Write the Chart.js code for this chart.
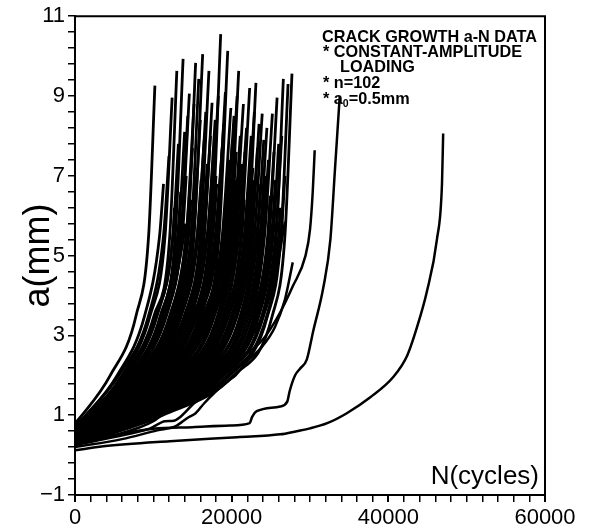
<!DOCTYPE html>
<html>
<head>
<meta charset="utf-8">
<script src="https://cdn.jsdelivr.net/npm/chart.js@4.4.0/dist/chart.umd.min.js"></script>
<style>
html, body { margin: 0; padding: 0; background: #fff; }
</style>
</head>
<body>
<canvas id="myChart" width="591" height="525"></canvas>
<script>
// tick labels
var xTickLabels = [0, 20000, 40000, 60000];
var yTickLabels = [-1, 1, 3, 5, 7, 9, 11];

// main bundle: crack length a (mm) reached at given cycles (thousands)
var crackLevels = [1, 2, 3.5, 5.5];
var startA = [0.80, 0.75, 0.70, 0.72, 0.65, 0.70, 0.62, 0.68, 0.60, 0.66,
  0.58, 0.64, 0.55, 0.60, 0.62, 0.57, 0.60, 0.54, 0.58, 0.52,
  0.60, 0.55, 0.50, 0.56, 0.48, 0.53, 0.50, 0.46, 0.52, 0.45,
  0.50, 0.47, 0.50, 0.44, 0.48, 0.42, 0.46, 0.40, 0.45, 0.42,
  0.38, 0.44, 0.40, 0.43, 0.37, 0.42, 0.36, 0.40, 0.35, 0.40,
  0.36, 0.33, 0.38, 0.32, 0.35, 0.30, 0.34, 0.30, 0.32, 0.28,
  0.33, 0.28, 0.31, 0.27, 0.30, 0.26, 0.30, 0.26, 0.29, 0.25,
  0.28, 0.30, 0.26, 0.28, 0.25,
  0.66, 0.55, 0.50, 0.47, 0.44, 0.41, 0.38, 0.36, 0.32, 0.49,
  0.52, 0.43, 0.38, 0.30, 0.41, 0.47, 0.58, 0.63, 0.34, 0.28, 0.45, 0.31];
var cyclesAt1mm = [0.9, 1.4, 1.4, 1.7, 2.0, 1.8, 2.0, 2.3, 2.1, 2.3,
  2.5, 2.4, 2.6, 2.9, 2.7, 2.8, 2.8, 3.1, 3.0, 3.2,
  3.4, 3.2, 3.4, 3.4, 3.7, 3.6, 3.8, 3.9, 4.1, 4.1,
  4.5, 4.3, 4.5, 4.8, 4.8, 4.9, 5.0, 5.4, 5.3, 5.6,
  5.6, 6.0, 5.8, 5.9, 6.2, 6.4, 6.3, 6.6, 6.7, 7.0,
  6.9, 7.2, 7.4, 7.4, 7.5, 7.8, 7.9, 8.2, 8.1, 8.4,
  8.7, 8.6, 8.9, 9.2, 9.1, 9.4, 9.7, 9.6, 9.9, 10.3,
  10.1, 10.3, 10.6, 10.8, 11.2,
  2.5, 3.3, 3.9, 4.6, 5.3, 5.7, 6.4, 7.0, 7.8, 4.4,
  3.7, 5.5, 6.7, 8.6, 5.9, 4.2, 3.0, 2.3, 7.6, 9.4, 5.0, 8.2];
var cyclesAt2mm = [4.5, 5.4, 5.6, 6.0, 6.4, 6.2, 6.6, 7.0, 6.9, 7.2,
  7.5, 7.3, 7.6, 8.0, 7.9, 8.0, 8.1, 8.4, 8.4, 8.7,
  9.0, 8.8, 9.0, 9.1, 9.5, 9.4, 9.7, 9.8, 10.1, 10.2,
  10.7, 10.5, 10.8, 11.1, 11.2, 11.3, 11.6, 12.0, 12.1, 12.4,
  12.5, 13.0, 12.9, 13.0, 13.3, 13.6, 13.6, 14.0, 14.0, 14.6,
  14.4, 14.7, 15.0, 15.0, 15.2, 15.5, 15.6, 16.1, 16.0, 16.4,
  16.8, 16.7, 17.0, 17.5, 17.4, 17.8, 18.2, 18.1, 18.5, 19.0,
  18.9, 19.0, 19.5, 19.8, 20.3,
  7.5, 8.9, 9.8, 10.9, 11.9, 12.6, 13.6, 14.6, 15.6, 10.5,
  9.4, 12.2, 14.1, 16.6, 12.9, 10.2, 8.3, 7.1, 15.3, 17.8, 11.6, 16.2];
var cyclesAt3p5mm = [7.8, 8.9, 9.4, 9.6, 10.3, 10.1, 10.5, 11.0, 10.9, 11.2,
  11.6, 11.5, 11.6, 12.2, 12.1, 12.2, 12.4, 12.8, 12.8, 13.0,
  13.5, 13.2, 13.5, 13.6, 14.0, 14.0, 14.3, 14.4, 14.8, 14.8,
  15.4, 15.2, 15.5, 15.9, 15.9, 16.1, 16.4, 16.9, 16.8, 17.1,
  17.2, 17.8, 17.6, 17.8, 18.2, 18.6, 18.5, 18.9, 19.0, 19.6,
  19.3, 19.6, 20.0, 20.0, 20.2, 20.6, 20.7, 21.2, 21.1, 21.5,
  21.9, 21.8, 22.2, 22.6, 22.5, 22.9, 23.3, 23.1, 23.5, 24.1,
  23.9, 23.9, 24.5, 24.6, 25.2,
  11.7, 13.4, 14.5, 15.6, 16.7, 17.4, 18.5, 19.6, 20.7, 15.2,
  14.0, 17.1, 19.1, 21.8, 17.7, 14.9, 12.7, 11.2, 20.3, 23.0, 16.4, 21.3];
var cyclesAt5p5mm = [9.4, 10.8, 11.3, 11.5, 12.5, 12.1, 12.5, 13.1, 12.8, 13.2,
  13.7, 13.5, 13.6, 14.5, 14.2, 14.2, 14.4, 14.9, 14.8, 15.1,
  15.6, 15.2, 15.6, 15.7, 16.2, 16.0, 16.4, 16.5, 16.9, 16.9,
  17.6, 17.2, 17.5, 17.9, 18.0, 18.1, 18.4, 19.0, 18.8, 19.2,
  19.3, 20.0, 19.6, 19.8, 20.2, 20.6, 20.4, 20.9, 20.9, 21.7,
  21.2, 21.6, 22.1, 21.9, 22.1, 22.5, 22.6, 23.2, 22.9, 23.3,
  23.8, 23.6, 24.0, 24.6, 24.2, 24.7, 25.1, 24.8, 25.3, 26.0,
  25.6, 25.7, 26.3, 26.3, 26.8,
  13.9, 15.7, 16.9, 18.2, 19.2, 19.8, 20.8, 21.8, 22.9, 17.5,
  16.5, 19.5, 21.3, 23.8, 19.8, 17.4, 14.9, 13.4, 22.3, 24.8, 18.9, 23.5];
var finalCycles = [10.2, 11.3, 12.0, 12.4, 12.7, 13.0, 13.2, 13.5, 13.8, 14.0,
  14.2, 14.4, 14.6, 14.8, 15.0, 15.2, 15.4, 15.6, 15.8, 16.0,
  16.1, 16.3, 16.5, 16.7, 16.9, 17.1, 17.3, 17.5, 17.7, 17.9,
  18.1, 18.3, 18.6, 18.8, 19.0, 19.2, 19.5, 19.7, 19.9, 20.1,
  20.3, 20.5, 20.7, 20.9, 21.1, 21.3, 21.5, 21.7, 21.9, 22.1,
  22.3, 22.5, 22.7, 22.9, 23.1, 23.3, 23.5, 23.7, 23.9, 24.1,
  24.3, 24.5, 24.7, 24.9, 25.2, 25.4, 25.6, 25.8, 26.0, 26.2,
  26.4, 26.6, 26.8, 27.2, 27.7,
  14.1, 15.9, 17.0, 18.4, 19.4, 20.0, 21.0, 22.0, 23.0, 18.0,
  16.8, 19.8, 21.6, 24.0, 20.6, 17.6, 15.3, 13.6, 22.8, 25.0, 19.1, 23.6];
var finalA = [9.26, 6.8, 7.5, 8.96, 6.2, 9.63, 7.8, 6.6, 9.93, 8.1,
  7.0, 8.5, 9.06, 6.4, 7.7, 8.8, 9.83, 7.2, 9.43, 8.4,
  6.9, 10.05, 7.9, 8.6, 7.3, 9.63, 8.0, 8.83, 7.5, 8.4,
  6.8, 9.0, 10.55, 7.7, 8.3, 9.1, 10.13, 7.4, 8.7, 7.9,
  8.5, 6.9, 9.0, 9.63, 8.0, 7.3, 8.8, 7.6, 8.2, 6.6,
  9.2, 8.0, 7.2, 8.6, 9.33, 7.7, 8.3, 6.8, 8.56, 7.9,
  7.0, 8.2, 7.4, 6.5, 8.56, 7.6, 6.9, 8.96, 7.8, 6.2,
  8.0, 9.43, 7.0, 9.3, 9.56,
  5.8, 6.0, 5.6, 6.2, 5.9, 6.3, 5.8, 6.1, 5.7, 7.0,
  6.5, 6.6, 6.4, 6.0, 7.6, 6.3, 6.7, 5.9, 6.9, 5.8, 6.0, 5.6];

// separate specimens (cycles in thousands, a in mm)
var wavyEarlyN = [0, 5, 9.6, 11.5, 12.6, 13.4, 15.2, 16, 17.6, 19, 20.2, 22.3, 24.2, 25.6, 26.8];
var wavyEarlyA = [0.25, 0.45, 0.67, 0.85, 0.86, 0.95, 1.3, 1.42, 1.9, 2.1, 2.35, 2.9, 3.6, 4.5, 5.85];
var wavyLateN = [0, 6, 10.5, 12.8, 14.5, 15.4, 16.5, 18, 19.5, 20.5, 22, 23.8, 25.5, 26.8, 27.8];
var wavyLateA = [0.2, 0.4, 0.62, 0.72, 0.95, 1.05, 1.3, 1.6, 1.85, 2.0, 2.35, 2.7, 3.2, 3.9, 4.83];
var smoothN = [0, 5, 10, 12.2, 16.4, 19.5, 24, 26.2, 27.8, 29.4, 30.0, 30.35, 30.6];
var smoothA = [0.3, 0.5, 0.85, 1.2, 1.84, 2.24, 2.9, 3.58, 4.23, 4.98, 5.65, 6.6, 7.64];
var stepN = [0, 5, 10, 15, 19.8, 22.3, 22.6, 23.2, 26.2, 27.1, 27.4, 28.1, 28.7, 29.6, 30.4, 31.7, 32.6, 33.2, 33.8];
var stepA = [0.3, 0.5, 0.66, 0.7, 0.74, 0.8, 0.95, 1.1, 1.22, 1.34, 1.6, 2.0, 2.16, 2.4, 3.1, 4.2, 5.4, 7.2, 9.0];
var longN = [0, 3.6, 12.1, 20.7, 26.2, 28.3, 30, 32.2, 34.7, 37.7, 40.6, 42.4, 43.7, 44.9, 46.2, 46.85, 47.0];
var longA = [0.12, 0.22, 0.35, 0.45, 0.52, 0.6, 0.67, 0.8, 1.05, 1.45, 1.95, 2.49, 3.23, 4.08, 5.4, 6.8, 8.06];

var datasets = [];
function addCurve(pts, width) {
    datasets.push({
        data: pts,
        borderColor: '#000',
        borderWidth: width,
        pointRadius: 0,
        fill: false,
        cubicInterpolationMode: 'monotone'
    });
}

for (var i = 0; i < finalCycles.length; i++) {
    var pts = [{x: 0, y: startA[i]}];
    var ns = [cyclesAt1mm[i], cyclesAt2mm[i], cyclesAt3p5mm[i], cyclesAt5p5mm[i]];
    for (var j = 0; j < ns.length; j++) {
        if (crackLevels[j] < finalA[i]) pts.push({x: ns[j] * 1000, y: crackLevels[j]});
    }
    pts.push({x: finalCycles[i] * 1000, y: finalA[i]});
    addCurve(pts, 2.8);
}

[[wavyEarlyN, wavyEarlyA], [wavyLateN, wavyLateA], [smoothN, smoothA],
 [stepN, stepA], [longN, longA]].forEach(function (c) {
    addCurve(c[0].map(function (n, k) { return {x: n * 1000, y: c[1][k]}; }), 2.5);
});

var FONT = '"Liberation Sans", Arial, Helvetica, sans-serif';

var extras = {
    id: 'extras',
    afterDraw: function (chart) {
        var c = chart.ctx, a = chart.chartArea;
        c.save();
        c.strokeStyle = '#000';
        c.lineWidth = 2;
        c.beginPath();
        c.moveTo(a.left, a.top);
        c.lineTo(a.right, a.top);
        c.lineTo(a.right, a.bottom);
        c.stroke();

        c.fillStyle = '#000';
        c.textBaseline = 'alphabetic';
        c.textAlign = 'left';
        c.font = 'bold 17px ' + FONT;
        var s = 215 / c.measureText('CRACK GROWTH a-N DATA').width;
        c.scale(s, 1);
        c.fillText('CRACK GROWTH a-N DATA', 322 / s, 42);
        c.fillText('* CONSTANT-AMPLITUDE', 323 / s, 57);
        c.fillText('LOADING', 340 / s, 72);
        c.fillText('* n=102', 323 / s, 88);
        var x = 323 / s;
        c.fillText('* a', x, 104);
        x += c.measureText('* a').width;
        c.font = 'bold 11px ' + FONT;
        c.fillText('0', x, 107);
        x += c.measureText('0').width;
        c.font = 'bold 17px ' + FONT;
        c.fillText('=0.5mm', x, 104);
        c.setTransform(1, 0, 0, 1, 0, 0);

        c.font = '26px ' + FONT;
        c.textAlign = 'right';
        c.fillText('N(cycles)', 539, 484);
        c.restore();
    }
};

var ctx = document.getElementById('myChart').getContext('2d');
var myChart = new Chart(ctx, {
    type: 'line',
    data: { datasets: datasets },
    plugins: [extras],
    options: {
        responsive: false,
        animation: false,
        events: [],
        layout: { padding: { top: 15, right: 46, left: 0, bottom: 0 } },
        plugins: {
            legend: { display: false },
            tooltip: { enabled: false }
        },
        scales: {
            x: {
                type: 'linear',
                min: 0,
                max: 60000,
                afterFit: function (s) { s.height = 30; },
                border: { color: '#000', width: 2 },
                grid: {
                    drawOnChartArea: false,
                    color: '#000',
                    tickLength: 7,
                    lineWidth: function (c) { return xTickLabels.indexOf(c.tick && c.tick.value) >= 0 ? 2 : 1.5; }
                },
                ticks: {
                    stepSize: 2000,
                    autoSkip: false,
                    maxRotation: 0,
                    padding: 3,
                    color: '#000',
                    font: { family: FONT, size: 22 },
                    callback: function (v) { return xTickLabels.indexOf(v) >= 0 ? String(v) : ''; }
                }
            },
            y: {
                type: 'linear',
                min: -1,
                max: 11,
                afterFit: function (s) { s.width = 75; },
                border: { color: '#000', width: 2 },
                grid: {
                    drawOnChartArea: false,
                    color: '#000',
                    tickLength: 7,
                    lineWidth: 1.5
                },
                ticks: {
                    stepSize: 0.4,
                    autoSkip: false,
                    padding: 3,
                    color: '#000',
                    font: { family: FONT, size: 22 },
                    callback: function (v) {
                        var r = Math.round(v);
                        if (Math.abs(v - r) > 1e-6 || yTickLabels.indexOf(r) < 0) return '';
                        return r < 0 ? '\u2212' + Math.abs(r) : String(r);
                    }
                },
                title: {
                    display: true,
                    text: 'a(mm)',
                    color: '#000',
                    font: { family: FONT, size: 36 },
                    padding: { top: 17, bottom: 0 }
                }
            }
        }
    }
});
</script>
</body>
</html>
